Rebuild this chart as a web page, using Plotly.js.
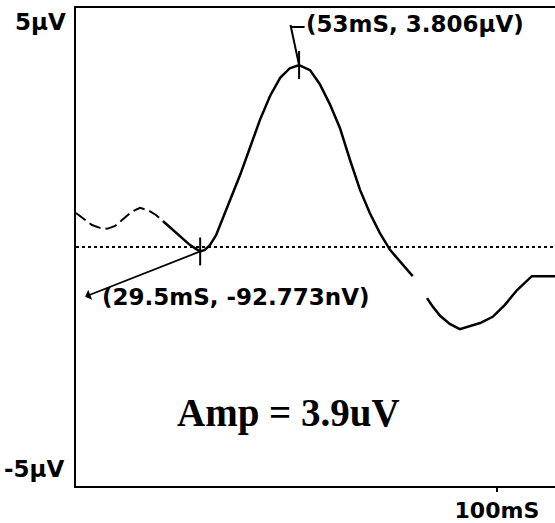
<!DOCTYPE html>
<html>
<head>
<meta charset="utf-8">
<script src="https://cdn.plot.ly/plotly-3.0.1.min.js"></script>
<style>html,body{margin:0;padding:0;background:#fff;}#chart{width:555px;height:523px;}</style>
</head>
<body>
<div id="chart"></div>
<script>
// Time in ms, amplitude in microvolts
const preTime = [0, 1.9, 3.8, 5.7, 7.4, 9.3, 11.2, 13.1, 15.2, 17.1, 19.0, 20.7];
const preAmp  = [0.71, 0.59, 0.46, 0.40, 0.38, 0.44, 0.59, 0.73, 0.82, 0.77, 0.67, 0.54];

const mainTime = [20.7, 22.8, 24.9, 27.1, 28.5, 29.5, 30.6, 31.8, 33.3, 34.7, 36.6, 39.0, 41.3, 43.7, 46.1, 48.5, 50.8, 53.0, 55.6, 57.9, 60.3, 62.7, 65.1, 67.5, 69.8, 72.2, 74.6, 77.0, 80.0];
const mainAmp  = [0.54, 0.38, 0.21, 0.04, -0.04, -0.093, -0.06, 0.04, 0.25, 0.56, 0.98, 1.51, 2.07, 2.66, 3.16, 3.54, 3.74, 3.806, 3.70, 3.41, 2.99, 2.49, 1.82, 1.19, 0.71, 0.29, -0.06, -0.31, -0.61];

const lateTime = [83.4, 84.6, 86.5, 88.8, 91.2, 93.6, 96.0, 99.0, 101.9, 104.8, 106.7, 108.3, 111.4, 113.8];
const lateAmp  = [-1.07, -1.23, -1.44, -1.61, -1.72, -1.65, -1.59, -1.46, -1.21, -0.90, -0.75, -0.61, -0.61, -0.61];

const baselineTime = [0, 113.8];
const baselineAmp = [0, 0];

const markTime = [29.5, 53];
const markAmp = [-0.093, 3.806];
const markLabels = ['(29.5mS, -92.773nV)', '(53mS, 3.806µV)'];

const xTickVals = [100];
const xTickText = ['100mS'];
const yLabels = ['5µV', '-5µV'];
const ampText = 'Amp = 3.9uV';

const sans = 'DejaVu Sans, sans-serif';
const labelFont = {family: sans, size: 23, color: '#000', weight: 'bold'};

const traces = [
  {x: baselineTime, y: baselineAmp, mode: 'lines', line: {color: '#000', width: 2, dash: '3px,3px'}, hoverinfo: 'skip'},
  {x: preTime, y: preAmp, mode: 'lines', line: {color: '#000', width: 2, dash: '12px,5px'}},
  {x: mainTime, y: mainAmp, mode: 'lines', line: {color: '#000', width: 2.5}},
  {x: lateTime, y: lateAmp, mode: 'lines', line: {color: '#000', width: 2.5}},
  {x: markTime, y: markAmp, mode: 'markers', marker: {symbol: 'line-ns-open', size: 20, color: '#000', line: {color: '#000', width: 2}}}
];

const layout = {
  width: 555, height: 523,
  margin: {l: 76, r: 0, t: 8, b: 37, pad: 0},
  paper_bgcolor: '#fff', plot_bgcolor: '#fff',
  showlegend: false,
  xaxis: {
    range: [0, 113.8], showgrid: false, zeroline: false,
    showline: true, mirror: true, linecolor: '#000', linewidth: 2,
    tickvals: xTickVals, ticktext: xTickText, ticks: 'outside', ticklen: 4, tickwidth: 1.5, tickcolor: '#000',
    tickfont: {family: sans, size: 22, color: '#000', weight: 'bold'}
  },
  yaxis: {
    range: [-5, 5], showgrid: false, zeroline: false,
    showline: true, linecolor: '#000', linewidth: 2,
    showticklabels: false, ticks: ''
  },
  annotations: [
    {xref: 'paper', x: 0, yref: 'y', y: 5, xanchor: 'right', yanchor: 'top', xshift: -8, yshift: 1, showarrow: false,
     text: yLabels[0], font: labelFont},
    {xref: 'paper', x: 0, yref: 'y', y: -5, xanchor: 'right', yanchor: 'bottom', xshift: -10, yshift: 2, showarrow: false,
     text: yLabels[1], font: labelFont},
    // top label leader: slanted part then short horizontal part
    {x: markTime[1], y: markAmp[1], ax: -9, ay: -42, text: ' ', showarrow: true, arrowhead: 0, arrowwidth: 2, arrowcolor: '#000', font: {size: 1}},
    {x: markTime[1], y: markAmp[1], xshift: -9, yshift: 38, ax: 16, ay: 0, text: ' ', showarrow: true, arrowhead: 0, arrowwidth: 2, arrowcolor: '#000', font: {size: 1}},
    {x: markTime[1], y: markAmp[1], xanchor: 'left', yanchor: 'middle', showarrow: false, xshift: 5, yshift: 41,
     text: markLabels[1], font: labelFont},
    // bottom leader line with arrowhead near label
    {x: markTime[0], y: markAmp[0], ax: -117, ay: 46, text: ' ', showarrow: true, arrowside: 'start', arrowhead: 1, arrowsize: 1, arrowwidth: 1.8, arrowcolor: '#000', font: {size: 2}},
    {x: markTime[0], y: markAmp[0], xanchor: 'left', yanchor: 'middle', showarrow: false, xshift: -100, yshift: -46,
     text: markLabels[0], font: labelFont},
    {xref: 'paper', x: 0.443, yref: 'y', y: -3.47, xanchor: 'center', yanchor: 'middle', showarrow: false,
     text: ampText, font: {family: 'Liberation Serif, Times New Roman, serif', size: 39, color: '#000', weight: 'bold'}}
  ]
};

Plotly.newPlot('chart', traces, layout, {staticPlot: true, displayModeBar: false});
</script>
</body>
</html>
